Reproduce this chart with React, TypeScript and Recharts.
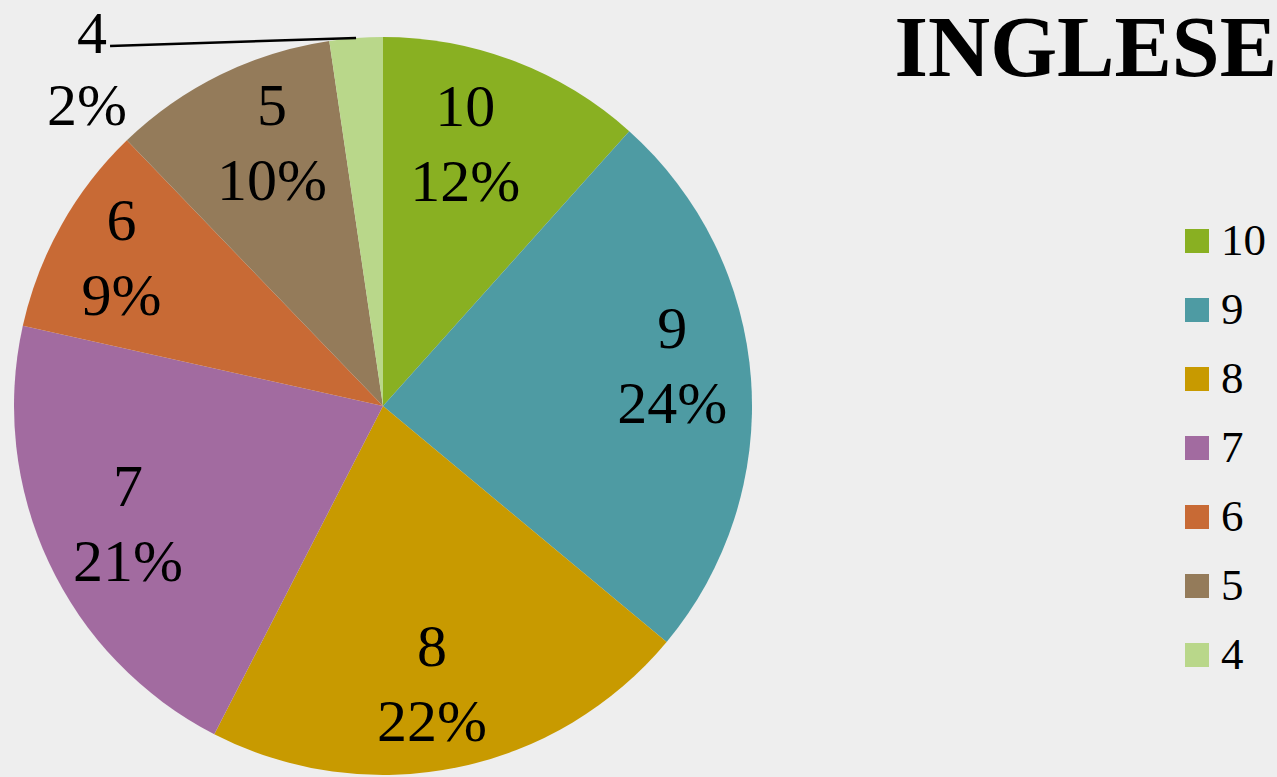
import { PieChart, Pie, Cell, Legend } from "recharts";

const grades = ["10", "9", "8", "7", "6", "5", "4"];
// counts (they give the rounded percentages shown)
const counts = [20, 42, 37, 36, 16, 17, 4];
const colors = ["#89b022", "#4e9ba3", "#c89a00", "#a26ba0", "#c86a35", "#947b5a", "#b9d78a"];
// small hand nudges of the in-slice labels (Excel "best fit" placement)
const labelNudge = [[-20, 5], [4, -19], [-8, -2], [4, -3], [-12, -8], [15, -6], [0, 0]];

const data = grades.map((g, i) => ({ name: g, value: counts[i] }));

const RAD = Math.PI / 180;
const FONT = "'Liberation Serif', 'Times New Roman', serif";

function renderLabel(props: any) {
  const { cx, cy, midAngle, outerRadius, index, name, percent } = props;
  const pct = `${Math.round(percent * 100)}%`;
  const cos = Math.cos(-midAngle * RAD);
  const sin = Math.sin(-midAngle * RAD);
  if (percent < 0.05) {
    // small slice: label outside with a leader line to the left
    const ex = cx + outerRadius * cos;
    const ey = cy + outerRadius * sin;
    const lx = ex - 246;
    const ly = ey + 8;
    return (
      <g key={`lbl-${index}`}>
        <line x1={ex} y1={ey} x2={lx} y2={ly} stroke="#000" strokeWidth={2.5} />
        <text x={lx - 18} y={ly + 7} textAnchor="middle" fontFamily={FONT} fontSize={60} fill="#000">
          {name}
        </text>
        <text x={lx - 23} y={ly + 79} textAnchor="middle" fontFamily={FONT} fontSize={60} fill="#000">
          {pct}
        </text>
      </g>
    );
  }
  const r = outerRadius * 0.775;
  const x = cx + r * cos + labelNudge[index][0];
  const y = cy + r * sin + labelNudge[index][1];
  return (
    <g key={`lbl-${index}`}>
      <text x={x} y={y - 38} textAnchor="middle" dominantBaseline="central" fontFamily={FONT} fontSize={60} fill="#000">
        {name}
      </text>
      <text x={x} y={y + 37} textAnchor="middle" dominantBaseline="central" fontFamily={FONT} fontSize={60} fill="#000">
        {pct}
      </text>
    </g>
  );
}

function LegendBox() {
  return (
    <div>
      {grades.map((g, i) => (
        <div key={g} style={{ display: "flex", alignItems: "center", height: 69 }}>
          <div style={{ width: 24, height: 24, background: colors[i], marginRight: 12 }} />
          <span style={{ fontFamily: FONT, fontSize: 45, lineHeight: "45px", color: "#000" }}>{g}</span>
        </div>
      ))}
    </div>
  );
}

export default function App() {
  return (
    <div
      style={{
        position: "fixed",
        left: 0,
        top: 0,
        width: 1277,
        height: 777,
        background: "#eeeeee",
        overflow: "hidden",
      }}
    >
      <div
        style={{
          position: "absolute",
          right: 0,
          top: 4,
          fontFamily: FONT,
          fontWeight: "bold",
          fontSize: 86,
          lineHeight: "86px",
          color: "#000",
        }}
      >
        INGLESE
      </div>
      <PieChart width={1277} height={777} margin={{ top: 0, right: 0, bottom: 0, left: 0 }}>
        <Pie
          data={data}
          dataKey="value"
          nameKey="name"
          cx={383}
          cy={406}
          outerRadius={369}
          startAngle={90}
          endAngle={-270}
          stroke="none"
          label={renderLabel}
          labelLine={false}
          isAnimationActive={false}
        >
          {data.map((d, i) => (
            <Cell key={d.name} fill={colors[i]} />
          ))}
        </Pie>
        <Legend
          content={<LegendBox />}
          wrapperStyle={{ position: "absolute", left: 1185, top: 206, width: 92 }}
        />
      </PieChart>
    </div>
  );
}
